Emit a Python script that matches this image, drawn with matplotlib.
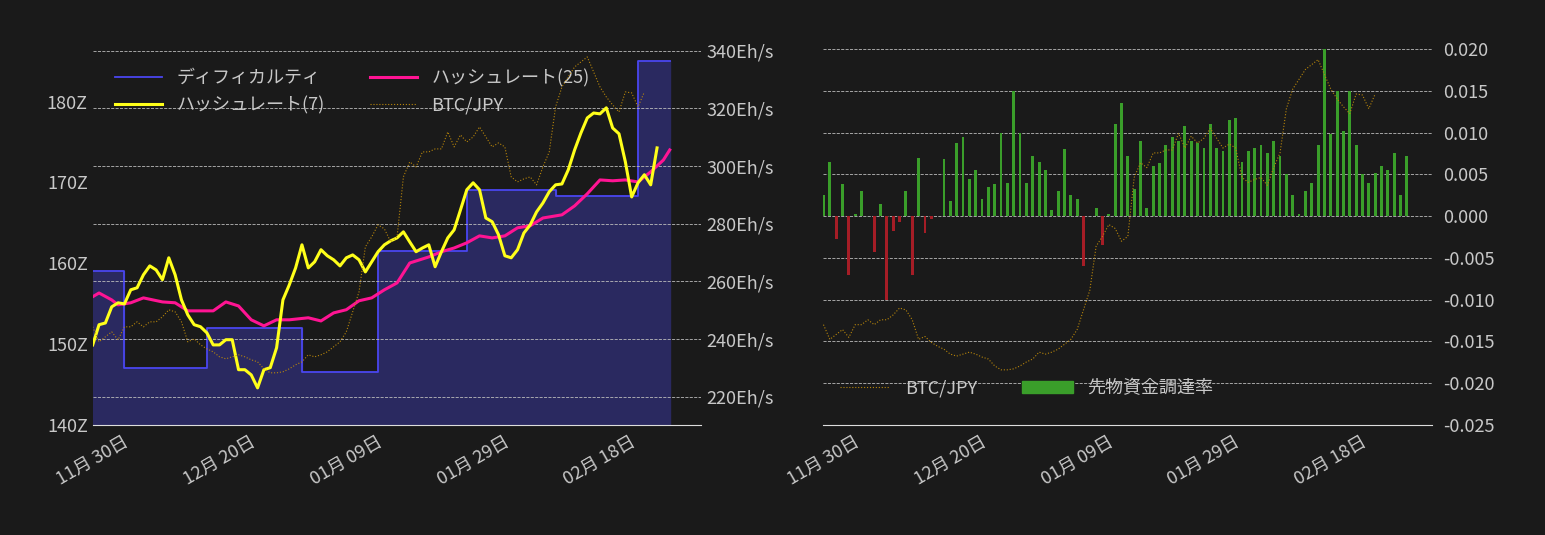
import numpy as np
import pandas as pd
import matplotlib
matplotlib.use("Agg")
import matplotlib.pyplot as plt
from matplotlib.patches import Patch

plt.rcParams['font.family'] = ['Noto Sans CJK JP', 'DejaVu Sans']

start = pd.Timestamp("2023-11-30")

diff_days = [0, 5, 18, 33, 45, 59, 73, 86, 91]
diff_vals = [159, 147, 152, 146.5, 161.5, 169, 168.3, 185, 185]

hash7 = [238.0, 245, 245.6, 251.2, 252.6, 252.2, 257.1, 257.8, 262.3, 265.4, 264, 260.6, 268.2, 262.3,
         253.6, 248.4, 245, 244.3, 242.2, 238, 238, 239.8, 239.8, 229.4, 229.4, 227.6, 223.1, 229.4,
         230.1, 237, 253.6, 258.8, 264.7, 272.7, 264.7, 266.8, 271, 268.9, 267.5, 265.4, 268.2, 269.2,
         267.5, 263.3, 266.8, 270.3, 272.7, 274.1, 275.1, 277.2, 273.7, 270.3, 271.6, 272.7, 265.1,
         270.3, 275.1, 277.9, 284.8, 291.8, 294.2, 291.8, 282, 280.7, 276.2, 268.9, 268.2, 271, 276.8,
         279.6, 284.1, 287.2, 291.1, 293.5, 293.8, 298.7, 305.6, 311.5, 316.7, 318.4, 318.1, 320.2,
         313.2, 311.2, 301.5, 289.3, 294.2, 297, 293.5, 306.3]

hash25_days = [0, 1, 3, 4, 6, 8, 11, 13, 15, 17, 19, 21, 23, 25, 27, 29, 31, 34, 36, 38, 40, 42, 44,
               46, 48, 50, 53, 55, 57, 59, 61, 63, 65, 67, 69, 71, 74, 76, 78, 80, 82, 84, 86, 88, 90, 91]
hash25 = [254.7, 256, 253.6, 251.9, 252.6, 254.3, 252.9, 252.6, 249.8, 249.8, 249.8, 252.9, 251.5,
          246.7, 244.6, 246.7, 246.7, 247.4, 246.3, 249.1, 250.2, 253.3, 254.3, 257.1, 259.5, 266.4,
          268.5, 270.3, 271.6, 273.4, 275.8, 275.1, 275.8, 278.6, 279.3, 282, 283.1, 286.2, 290.4,
          295.2, 294.9, 295.2, 294.5, 298, 302.1, 305.6]

btc = [670, 655, 660, 665, 657, 670, 670, 675, 670, 675, 675, 680, 687, 685, 675, 655, 658, 652, 648,
       645, 640, 638, 640, 642, 640, 637, 635, 628, 624, 624, 625, 628, 632, 635, 642, 640, 642, 645,
       650, 655, 665, 685, 705, 750, 760, 772, 768, 755, 760, 820, 835, 830, 845, 845, 848, 848, 865,
       850, 862, 855, 860, 870, 860, 850, 854, 850, 820, 815, 818, 820, 812, 830, 845, 890, 910, 920,
       930, 935, 940, 925, 910, 900, 892, 885, 905, 904, 890, 905]

funding = [0.0025, 0.0065, -0.0028, 0.0038, -0.007, 0.0003, 0.003, 0.0, -0.0043, 0.0015, -0.010,
           -0.0018, -0.0007, 0.003, -0.007, 0.007, -0.002, -0.0003, 0.0, 0.0068, 0.0018, 0.0088,
           0.0095, 0.0045, 0.0055, 0.002, 0.0035, 0.0038, 0.010, 0.004, 0.015, 0.010, 0.004, 0.0072,
           0.0065, 0.0055, 0.0007, 0.003, 0.008, 0.0025, 0.002, -0.006, 0.0, 0.001, -0.0035, 0.0003,
           0.011, 0.0135, 0.0072, 0.0032, 0.009, 0.001, 0.006, 0.0063, 0.0085, 0.0095, 0.009, 0.0108,
           0.009, 0.0088, 0.0082, 0.011, 0.0082, 0.0078, 0.0115, 0.0118, 0.0065, 0.0078, 0.0082,
           0.0085, 0.0075, 0.009, 0.0072, 0.005, 0.0025, 0.0002, 0.003, 0.004, 0.0085, 0.020, 0.0098,
           0.015, 0.0102, 0.015, 0.0085, 0.005, 0.004, 0.0052, 0.006, 0.0055, 0.0075, 0.0025, 0.0072]

BG = "#1a1a1a"
TXT = "#c8c8c8"
d = lambda days: start + pd.to_timedelta(np.asarray(days), unit="D")

fig = plt.figure(figsize=(15.45, 5.35), dpi=100, facecolor=BG)
xlim = (start, start + pd.Timedelta(days=96))

def style(ax):
    ax.set_facecolor(BG)
    for s in ax.spines.values():
        s.set_visible(False)
    ax.tick_params(colors=TXT, labelsize=13, length=0)

# ---------- left ----------
ax1 = fig.add_axes([0.060, 0.206, 0.394, 0.710])
style(ax1)
ax1.spines['bottom'].set_visible(True)
ax1.spines['bottom'].set_color("#dddddd")
ax1.fill_between(d(diff_days), diff_vals, 140, step="post", color="#2a2960", zorder=1)
l_diff, = ax1.step(d(diff_days), diff_vals, where="post", color="#4a46f0", lw=1.3, zorder=2)
ax1.set_ylim(140, 187)
ax1.set_yticks([140, 150, 160, 170, 180])
ax1.set_yticklabels([f"{v}Z" for v in [140, 150, 160, 170, 180]])

ax2 = ax1.twinx()
style(ax2)
ax2.set_ylim(210.3, 342)
ax2.set_yticks(range(220, 341, 20))
ax2.set_yticklabels([f"{v}Eh/s" for v in range(220, 341, 20)])
ax2.grid(axis="y", color="#bbbbbb", ls="--", lw=0.6)
l_h7, = ax2.plot(d(np.arange(len(hash7))), hash7, color="#ffff1a", lw=2.2, zorder=4)
l_h25, = ax2.plot(d(hash25_days), hash25, color="#ff1493", lw=2.2, zorder=3)

ax3 = ax1.twinx()
ax3.axis("off")
ax3.set_ylim(572, 952)
l_btc, = ax3.plot(d(np.arange(len(btc))), btc, color="#b8860b", lw=0.8, ls=":")
ax1.set_xlim(*xlim)

ax2.legend([l_diff, l_h7, l_h25, l_btc], ["ディフィカルティ", "ハッシュレート(7)", "ハッシュレート(25)", "BTC/JPY"],
           ncol=2, loc="upper left", frameon=False, fontsize=13, labelcolor=TXT,
           bbox_to_anchor=(0.01, 0.98), columnspacing=2.5, handlelength=2.6)

# ---------- right ----------
bx = fig.add_axes([0.533, 0.206, 0.394, 0.710])
style(bx)
bx.spines['bottom'].set_visible(True)
bx.spines['bottom'].set_color("#dddddd")
fd = d(np.arange(len(funding)))
cols = ["#3a9e2a" if v >= 0 else "#a51d26" for v in funding]
bx.bar(fd, funding, width=0.45, color=cols, zorder=3)
bx.set_ylim(-0.025, 0.0205)
yt = np.arange(-0.025, 0.0201, 0.005)
bx.set_yticks(yt)
bx.set_yticklabels([f"{v:.3f}" for v in yt])
bx.grid(axis="y", color="#bbbbbb", ls="--", lw=0.6)
bx3 = bx.twinx()
bx3.axis("off")
bx3.set_ylim(568, 955)
r_btc, = bx3.plot(d(np.arange(len(btc))), btc, color="#b8860b", lw=0.8, ls=":")
bx.yaxis.tick_right()
bx.yaxis.set_label_position("right")
bx.tick_params(axis="y", labelleft=False, labelright=True, pad=8)
bx.set_xlim(*xlim)
bx3.legend([r_btc, Patch(color="#3a9e2a")], ["BTC/JPY", "先物資金調達率"], ncol=2, loc="lower left",
           frameon=False, fontsize=13, labelcolor=TXT, bbox_to_anchor=(0.0, 0.03), columnspacing=2.5,
           handlelength=2.8)

ticks = [start + pd.Timedelta(days=20 * i) for i in range(5)]
for ax in (ax1, bx):
    ax.set_xticks(ticks)
    ax.set_xticklabels([f"{t.month:02d}月 {t.day:02d}日" for t in ticks], rotation=30, ha="center")
    ax.tick_params(axis="x", pad=6)

fig.savefig("out.png", dpi=100, facecolor=BG)
